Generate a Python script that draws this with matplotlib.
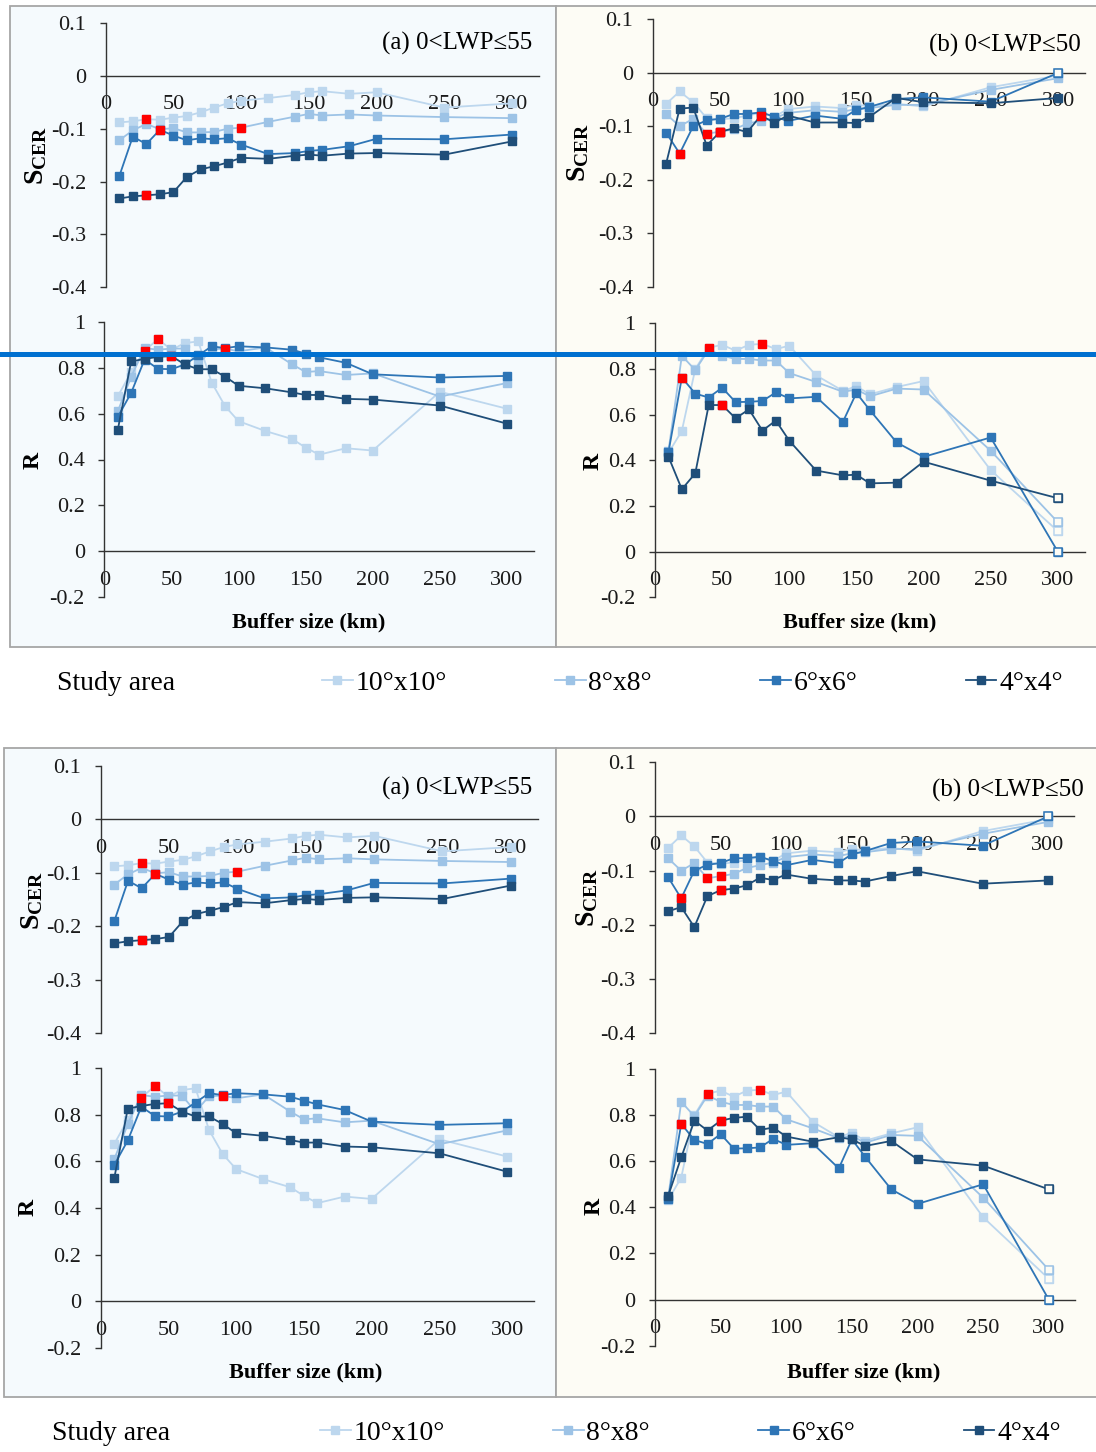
import matplotlib
matplotlib.use("Agg")
import numpy as np
import matplotlib.pyplot as plt
from matplotlib.patches import Rectangle
from matplotlib.lines import Line2D
from matplotlib.ticker import FuncFormatter

W, H = 1096, 1452

plt.rcParams["font.family"] = ["Liberation Serif", "DejaVu Serif"]
plt.rcParams["mathtext.fontset"] = "custom"
plt.rcParams["mathtext.rm"] = "Liberation Serif"
plt.rcParams["mathtext.bf"] = "Liberation Serif:bold"
plt.rcParams["axes.unicode_minus"] = False

BUFFER = [10, 20, 30, 40, 50, 60, 70, 80, 90, 100, 120, 140, 150, 160, 180, 200, 250, 300]
AREAS = ["10°x10°", "8°x8°", "6°x6°", "4°x4°"]
COLORS = ["#bdd7ee", "#9dc3e6", "#2e75b6", "#1f4e79"]

# (a) 0<LWP<=55 : S_CER
scer_a_10 = [-0.088, -0.086, -0.082, -0.083, -0.079, -0.076, -0.069, -0.060, -0.052, -0.047,
             -0.042, -0.036, -0.031, -0.029, -0.034, -0.031, -0.060, -0.052]
scer_a_8 = [-0.122, -0.103, -0.091, -0.101, -0.099, -0.107, -0.107, -0.106, -0.100, -0.098,
            -0.087, -0.077, -0.072, -0.075, -0.073, -0.075, -0.078, -0.080]
scer_a_6 = [-0.190, -0.115, -0.129, -0.102, -0.113, -0.122, -0.118, -0.120, -0.118, -0.130,
            -0.148, -0.146, -0.142, -0.140, -0.133, -0.119, -0.120, -0.111]
scer_a_4 = [-0.232, -0.228, -0.226, -0.224, -0.220, -0.191, -0.177, -0.171, -0.164, -0.155,
            -0.157, -0.151, -0.149, -0.151, -0.147, -0.146, -0.149, -0.124]

# (a) 0<LWP<=55 : R
r_a_10 = [0.675, 0.780, 0.874, 0.924, 0.878, 0.907, 0.914, 0.735, 0.632, 0.567,
          0.524, 0.489, 0.452, 0.421, 0.449, 0.439, 0.695, 0.621]
r_a_8 = [0.609, 0.760, 0.885, 0.878, 0.883, 0.883, 0.814, 0.880, 0.883, 0.871,
         0.888, 0.814, 0.781, 0.785, 0.768, 0.775, 0.674, 0.733]
r_a_6 = [0.585, 0.690, 0.835, 0.795, 0.793, 0.814, 0.853, 0.893, 0.885, 0.893,
         0.888, 0.878, 0.861, 0.845, 0.821, 0.771, 0.757, 0.764]
r_a_4 = [0.528, 0.827, 0.838, 0.847, 0.850, 0.814, 0.793, 0.793, 0.761, 0.721,
         0.710, 0.692, 0.681, 0.681, 0.664, 0.661, 0.635, 0.556]

# (b) 0<LWP<=50 : S_CER
scer_b_10 = [-0.058, -0.035, -0.055, -0.085, -0.087, -0.085, -0.080, -0.075, -0.082, -0.068,
             -0.063, -0.066, -0.060, -0.062, -0.058, -0.063, -0.027, -0.005]
scer_b_8 = [-0.077, -0.100, -0.086, -0.114, -0.110, -0.106, -0.095, -0.090, -0.085, -0.075,
            -0.070, -0.073, -0.068, -0.066, -0.060, -0.060, -0.032, -0.010]
scer_b_6 = [-0.112, -0.151, -0.100, -0.089, -0.086, -0.077, -0.077, -0.074, -0.082, -0.090,
            -0.080, -0.086, -0.070, -0.064, -0.049, -0.046, -0.054, 0.000]
scer_b_4_top = [-0.170, -0.067, -0.065, -0.136, -0.110, -0.104, -0.111, -0.080, -0.093, -0.080,
                -0.093, -0.093, -0.094, -0.083, -0.047, -0.055, -0.057, -0.047]
scer_b_4_bottom = [-0.175, -0.167, -0.204, -0.147, -0.136, -0.133, -0.127, -0.113, -0.117, -0.107,
                   -0.115, -0.118, -0.118, -0.120, -0.110, -0.101, -0.124, -0.118]

# (b) 0<LWP<=50 : R
r_b_10 = [0.432, 0.529, 0.800, 0.893, 0.906, 0.880, 0.906, 0.910, 0.887, 0.902,
          0.772, 0.704, 0.724, 0.689, 0.721, 0.747, 0.357, 0.090]
r_b_8 = [0.440, 0.858, 0.795, 0.885, 0.858, 0.844, 0.844, 0.837, 0.837, 0.782,
         0.743, 0.700, 0.710, 0.680, 0.714, 0.710, 0.442, 0.129]
r_b_6 = [0.435, 0.762, 0.692, 0.675, 0.718, 0.655, 0.656, 0.660, 0.697, 0.671,
         0.678, 0.569, 0.695, 0.620, 0.478, 0.415, 0.500, 0.000]
r_b_4_top = [0.416, 0.273, 0.343, 0.642, 0.642, 0.584, 0.623, 0.530, 0.574, 0.486,
             0.355, 0.334, 0.337, 0.299, 0.302, 0.394, 0.311, 0.234]
r_b_4_bottom = [0.449, 0.617, 0.776, 0.733, 0.776, 0.788, 0.793, 0.736, 0.746, 0.707,
                0.685, 0.704, 0.695, 0.666, 0.688, 0.608, 0.581, 0.478]

# buffer sizes drawn in red (significant)
red_scer_a = {"10°x10°": [30], "8°x8°": [100], "6°x6°": [40], "4°x4°": [30]}
red_r_a = {"10°x10°": [30, 40], "8°x8°": [90], "4°x4°": [50]}
red_scer_b_top = {"8°x8°": [40, 50], "6°x6°": [20], "4°x4°": [50, 80]}
red_scer_b_bottom = {"8°x8°": [40, 50], "6°x6°": [20], "4°x4°": [50]}
red_r_b = {"10°x10°": [40, 80], "6°x6°": [20], "4°x4°": [50]}

BG_A = "#f5fafd"
BG_B = "#fdfcf5"
EDGE = "#a6a6a6"


def fig_xy(x, y):
    return x / W, 1 - y / H


def fmt(v, pos):
    return "0" if abs(v) < 1e-9 else f"{v:g}"


def add_panel(fig, geom, series, red, ylim, yticks, hollow, bg):
    x0, x300, top, bottom = geom
    x1 = x0 + (x300 - x0) * 320 / 300
    ax = fig.add_axes([x0 / W, 1 - bottom / H, (x1 - x0) / W, (bottom - top) / H])
    ax.patch.set_visible(False)
    handles = []
    for name, vals, color in zip(AREAS, series, COLORS):
        h, = ax.plot(BUFFER, vals, color=color, lw=1.3, marker="s", ms=5.5, zorder=3)
        handles.append(h)
        if name in hollow:
            ax.plot(BUFFER[-1], vals[-1], ls="none", marker="s", ms=5.5,
                    mfc=bg, mec=color, mew=1.1, zorder=3)
        for b in red.get(name, []):
            ax.plot(b, vals[BUFFER.index(b)], ls="none", marker="s", ms=5.5,
                    color="red", zorder=4)
    ax.set_xlim(0, 320)
    ax.set_ylim(*ylim)
    ax.set_xticks(range(0, 301, 50))
    ax.set_yticks(yticks)
    ax.yaxis.set_major_formatter(FuncFormatter(fmt))
    for s in ("top", "right"):
        ax.spines[s].set_visible(False)
    ax.spines["bottom"].set_position(("data", 0))
    for s in ("left", "bottom"):
        ax.spines[s].set_color("#333333")
        ax.spines[s].set_linewidth(1.0)
    ax.tick_params(axis="x", length=0, pad=14, labelsize=16, colors="#1a1a1a")
    ax.tick_params(axis="y", length=4, width=1, pad=10, labelsize=16,
                   colors="#333333", labelcolor="#1a1a1a")
    return handles


BLOCKS = [
    dict(box=(10, 6, 556, 647), legend_y=683, legend_x=322, study_x=57,
         a_scer=(105.7, 512, 23, 287.3), a_r=(104.3, 507, 321.7, 597.3),
         b_scer=(652.6, 1058.4, 19.3, 286.7), b_r=(655, 1057.8, 323.3, 597.3),
         title_a=(532, 43), title_b=(1081, 45),
         ylab=[(36, 156, "s"), (33, 460, "r"), (578, 153, "s"), (593, 461, "r")],
         xlab=[(309, 622), (860, 622)],
         scer_b_4=scer_b_4_top, r_b_4=r_b_4_top, red_scer_b=red_scer_b_top),
    dict(box=(4, 748, 556, 1397), legend_y=1433, legend_x=320, study_x=52,
         a_scer=(100.7, 510.7, 765.7, 1033.3), a_r=(100.7, 507.1, 1068.3, 1347.7),
         b_scer=(655, 1048, 762.3, 1033.3), b_r=(655, 1048.8, 1069, 1345.7),
         title_a=(532, 788), title_b=(1084, 790),
         ylab=[(32, 901, "s"), (28, 1207, "r"), (587, 898, "s"), (594, 1206, "r")],
         xlab=[(306, 1372), (864, 1372)],
         scer_b_4=scer_b_4_bottom, r_b_4=r_b_4_bottom, red_scer_b=red_scer_b_bottom),
]

scer_ticks = np.round(np.arange(-0.4, 0.11, 0.1), 1)
r_ticks = np.round(np.arange(-0.2, 1.01, 0.2), 1)

fig = plt.figure(figsize=(W / 100, H / 100), dpi=100)

for blk in BLOCKS:
    left, top, mid, bottom = blk["box"]
    for x0, x1, bg in ((left, mid, BG_A), (mid, W + 5, BG_B)):
        fig.add_artist(Rectangle((x0 / W, 1 - bottom / H), (x1 - x0) / W, (bottom - top) / H,
                                 transform=fig.transFigure, facecolor=bg, edgecolor=EDGE,
                                 lw=1.3, zorder=-1))

    add_panel(fig, blk["a_scer"], [scer_a_10, scer_a_8, scer_a_6, scer_a_4], red_scer_a,
              (-0.4, 0.1), scer_ticks, [], BG_A)
    handles = add_panel(fig, blk["a_r"], [r_a_10, r_a_8, r_a_6, r_a_4], red_r_a,
                        (-0.2, 1.0), r_ticks, [], BG_A)
    add_panel(fig, blk["b_scer"], [scer_b_10, scer_b_8, scer_b_6, blk["scer_b_4"]],
              blk["red_scer_b"], (-0.4, 0.1), scer_ticks, ["6°x6°"], BG_B)
    add_panel(fig, blk["b_r"], [r_b_10, r_b_8, r_b_6, blk["r_b_4"]], red_r_b,
              (-0.2, 1.0), r_ticks, AREAS, BG_B)

    fig.text(*fig_xy(*blk["title_a"]), "(a) 0<LWP≤55", ha="right", va="center", fontsize=18)
    fig.text(*fig_xy(*blk["title_b"]), "(b) 0<LWP≤50", ha="right", va="center", fontsize=18)
    for x, y, kind in blk["ylab"]:
        label = r"$\mathbf{S_{CER}}$" if kind == "s" else "R"
        fig.text(*fig_xy(x, y), label, rotation=90, ha="center", va="center",
                 fontsize=20 if kind == "s" else 17, fontweight="bold")
    for x, y in blk["xlab"]:
        fig.text(*fig_xy(x, y), "Buffer size (km)", ha="center", va="center",
                 fontsize=16, fontweight="bold")

    fig.text(*fig_xy(blk["study_x"], blk["legend_y"]), "Study area", ha="left", va="center",
             fontsize=20)
    fig.legend(handles, AREAS, loc="center left",
               bbox_to_anchor=fig_xy(blk["legend_x"], blk["legend_y"]),
               ncol=4, frameon=False, fontsize=20, handlelength=1.1, handletextpad=0.1,
               columnspacing=3.9, borderpad=0, borderaxespad=0)

fig.add_artist(Line2D([0, 1], [1 - 354 / H] * 2, transform=fig.transFigure,
                      color="#0070d0", lw=3.6, zorder=10))

fig.savefig("out.png", dpi=100)
